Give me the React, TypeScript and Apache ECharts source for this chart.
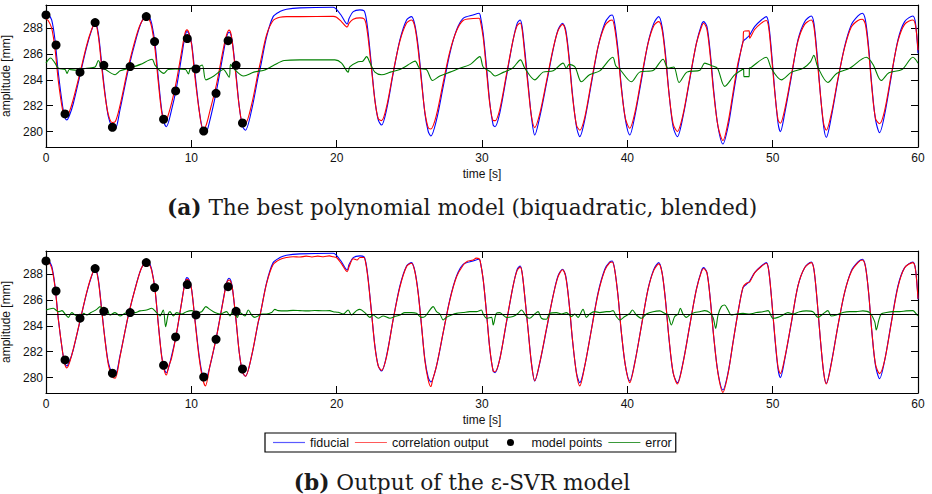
import React, { useEffect, useRef } from "react";
import * as echarts from "echarts";

const X_TICKS = [0, 10, 20, 30, 40, 50, 60];
const Y_TICKS = [280, 282, 284, 286, 288];
const Y_MIN = 278.8;
const Y_MAX = 289.8;
const ERROR_BASELINE = 284.92;

const NAME_FID = "fiducial";
const NAME_CORR = "correlation output";
const NAME_PTS = "model points";
const NAME_ERR = "error";

const CAPTION_A_TAG = "(a)";
const CAPTION_A = "The best polynomial model (biquadratic, blended)";
const CAPTION_B_TAG = "(b)";
const CAPTION_B = "Output of the ε-SVR model";

// fiducial signal [t, amplitude]
const fiducial: [number, number][] = [
  [0.0, 289.15], [0.15, 289.1], [0.39, 288.64], [0.62, 287.09], [0.85, 284.51], [1.15, 281.92], [1.3, 281.1], [1.43, 280.9],
  [1.6, 281.2], [1.88, 282.17], [2.34, 284.37], [2.8, 286.56], [3.14, 287.85], [3.38, 288.5], [3.6, 287.6], [3.83, 285.28],
  [4.06, 282.96], [4.29, 281.15], [4.55, 280.35], [4.76, 280.2], [5.09, 281.67], [5.66, 284.77], [6.24, 287.35], [6.58, 288.51],
  [6.94, 289.03], [7.1, 288.9], [7.27, 288.38], [7.5, 286.83], [7.72, 284.25], [7.96, 281.67], [8.15, 280.6], [8.28, 280.37],
  [8.64, 281.67], [8.99, 283.48], [9.33, 285.8], [9.56, 287.35], [9.7, 287.74], [9.85, 287.55], [10.02, 286.83], [10.25, 284.5],
  [10.54, 281.67], [10.78, 280.12], [10.97, 279.86], [11.28, 280.89], [11.74, 283.22], [12.2, 286.06], [12.43, 287.35], [12.6, 287.69],
  [12.72, 287.5], [12.84, 286.83], [13.07, 284.5], [13.3, 281.92], [13.53, 280.37], [13.72, 280.1], [14.15, 281.67], [14.6, 284.25],
  [14.76, 285.0], [15.18, 287.35], [15.63, 288.9], [16.09, 289.29], [16.55, 289.47], [17.47, 289.58], [19.76, 289.63], [19.99, 289.47],
  [20.34, 288.95], [20.72, 288.33], [20.86, 288.77], [21.14, 289.29], [21.6, 289.42], [21.87, 289.37], [22.01, 288.9], [22.17, 287.61],
  [22.4, 285.03], [22.63, 282.45], [22.86, 280.9], [23.09, 280.5], [23.43, 281.67], [23.89, 284.5], [24.35, 287.09], [24.81, 288.64],
  [25.15, 288.9], [25.38, 288.26], [25.61, 286.58], [25.84, 284.0], [26.07, 281.41], [26.3, 280.0], [26.48, 279.65], [26.87, 280.9],
  [27.33, 283.48], [27.79, 286.06], [28.25, 287.87], [28.7, 288.77], [29.39, 289.03], [29.8, 289.16], [29.88, 289.0], [30.08, 287.61],
  [30.31, 285.03], [30.54, 282.19], [30.77, 280.5], [30.9, 280.37], [31.22, 281.41], [31.68, 284.25], [32.14, 287.09], [32.42, 288.38],
  [32.63, 288.64], [32.76, 288.13], [32.94, 286.32], [33.17, 283.74], [33.4, 281.15], [33.63, 279.73], [33.98, 281.15], [34.44, 283.74],
  [34.89, 286.32], [35.23, 287.87], [35.54, 288.39], [35.76, 287.87], [35.99, 285.8], [36.22, 282.96], [36.5, 280.37], [36.73, 279.6],
  [37.07, 280.9], [37.53, 283.74], [37.99, 286.58], [38.45, 288.39], [38.79, 288.95], [38.96, 289.03], [39.13, 288.38], [39.36, 286.32],
  [39.59, 283.48], [39.87, 280.9], [40.17, 279.73], [40.51, 281.15], [40.97, 284.0], [41.42, 286.83], [41.82, 288.38], [42.16, 288.9],
  [42.39, 288.13], [42.62, 286.06], [42.87, 282.96], [43.15, 280.37], [43.44, 279.6], [43.83, 281.15], [44.29, 284.0], [44.75, 286.83],
  [45.1, 288.26], [45.25, 288.51], [45.48, 288.13], [45.71, 286.06], [45.94, 283.22], [46.24, 280.37], [46.58, 279.03], [46.93, 280.37],
  [47.27, 282.7], [47.61, 285.03], [47.96, 286.96], [48.19, 287.22], [48.42, 287.48], [48.76, 288.13], [49.22, 288.64], [49.56, 288.9],
  [49.72, 288.38], [49.91, 286.32], [50.14, 283.22], [50.37, 280.64], [50.53, 279.99], [50.83, 281.41], [51.29, 284.25], [51.74, 287.09],
  [52.2, 288.51], [52.66, 288.95], [52.84, 288.38], [53.05, 286.06], [53.28, 282.96], [53.51, 280.37], [53.69, 279.55], [54.04, 281.15],
  [54.49, 284.0], [54.95, 286.58], [55.41, 288.26], [55.87, 288.95], [56.17, 289.16], [56.38, 288.64], [56.6, 286.58], [56.83, 283.48],
  [57.08, 280.9], [57.36, 279.91], [57.7, 281.28], [58.16, 284.25], [58.62, 287.09], [59.08, 288.51], [59.65, 288.95], [59.83, 288.38],
  [60.0, 286.06],
];

// correlation output of the polynomial model (panel a)
const correlationA: [number, number][] = [
  [0.0, 288.7], [0.15, 288.6], [0.39, 288.0], [0.62, 286.4], [0.85, 283.9], [1.15, 281.6], [1.3, 281.1], [1.43, 281.15],
  [1.6, 281.5], [1.88, 282.5], [2.34, 284.55], [2.8, 286.7], [3.14, 287.9], [3.38, 288.4], [3.6, 287.4], [3.83, 285.0],
  [4.06, 282.8], [4.29, 281.3], [4.55, 280.7], [4.76, 280.75], [5.09, 282.0], [5.66, 285.0], [6.24, 287.5], [6.58, 288.5],
  [6.94, 288.9], [7.1, 288.7], [7.27, 288.1], [7.5, 286.4], [7.72, 283.9], [7.96, 281.5], [8.15, 280.8], [8.28, 280.85],
  [8.64, 282.2], [8.99, 284.0], [9.33, 286.2], [9.56, 287.6], [9.7, 287.87], [9.85, 287.6], [10.02, 286.7], [10.25, 284.2],
  [10.54, 281.6], [10.78, 280.3], [10.97, 280.35], [11.28, 281.6], [11.74, 283.7], [12.2, 286.4], [12.43, 287.5], [12.6, 287.85],
  [12.72, 287.6], [12.84, 286.7], [13.07, 284.3], [13.3, 281.9], [13.53, 280.65], [13.72, 280.65], [14.15, 282.1], [14.6, 284.6],
  [14.76, 285.4], [15.18, 287.5], [15.63, 288.6], [16.09, 288.85], [16.55, 288.9], [17.47, 288.9], [19.76, 288.92], [19.99, 288.85],
  [20.34, 288.5], [20.72, 288.1], [20.86, 288.4], [21.14, 288.7], [21.6, 288.8], [21.87, 288.75], [22.01, 288.4], [22.17, 287.2],
  [22.4, 284.8], [22.63, 282.4], [22.86, 281.0], [23.09, 280.84], [23.43, 281.9], [23.89, 284.6], [24.35, 287.0], [24.81, 288.4],
  [25.15, 288.64], [25.38, 288.1], [25.61, 286.3], [25.84, 283.8], [26.07, 281.5], [26.3, 280.3], [26.48, 280.2], [26.87, 281.3],
  [27.33, 283.8], [27.79, 286.2], [28.25, 287.8], [28.7, 288.6], [29.39, 288.75], [29.8, 288.77], [29.88, 288.6], [30.08, 287.3],
  [30.31, 284.7], [30.54, 282.1], [30.77, 280.85], [30.9, 280.84], [31.22, 281.7], [31.68, 284.4], [32.14, 287.1], [32.42, 288.2],
  [32.63, 288.4], [32.76, 287.9], [32.94, 286.0], [33.17, 283.5], [33.4, 281.2], [33.63, 280.3], [33.98, 281.4], [34.44, 283.9],
  [34.89, 286.4], [35.23, 287.8], [35.54, 288.3], [35.76, 287.7], [35.99, 285.6], [36.22, 282.8], [36.5, 280.5], [36.73, 280.1],
  [37.07, 281.1], [37.53, 283.9], [37.99, 286.6], [38.45, 288.2], [38.79, 288.6], [38.96, 288.64], [39.13, 288.0], [39.36, 286.0],
  [39.59, 283.3], [39.87, 281.0], [40.17, 280.25], [40.51, 281.4], [40.97, 284.2], [41.42, 286.8], [41.82, 288.2], [42.16, 288.51],
  [42.39, 287.9], [42.62, 285.8], [42.87, 282.9], [43.15, 280.6], [43.44, 280.0], [43.83, 281.3], [44.29, 284.1], [44.75, 286.8],
  [45.1, 288.1], [45.25, 288.39], [45.48, 287.9], [45.71, 285.8], [45.94, 283.0], [46.24, 280.4], [46.58, 279.3], [46.93, 280.7],
  [47.27, 283.0], [47.61, 285.3], [47.96, 286.96], [48.0, 287.74], [48.38, 287.8], [48.42, 287.22], [48.76, 287.9], [49.22, 288.4],
  [49.56, 288.6], [49.72, 288.1], [49.91, 286.0], [50.14, 283.1], [50.37, 280.9], [50.53, 280.64], [50.83, 281.7], [51.29, 284.4],
  [51.74, 287.0], [52.2, 288.3], [52.66, 288.64], [52.84, 288.1], [53.05, 285.8], [53.28, 282.9], [53.51, 280.6], [53.69, 280.1],
  [54.04, 281.4], [54.49, 284.1], [54.95, 286.5], [55.41, 288.1], [55.87, 288.6], [56.17, 288.7], [56.38, 288.3], [56.6, 286.3],
  [56.83, 283.3], [57.08, 281.0], [57.36, 280.6], [57.7, 281.6], [58.16, 284.4], [58.62, 287.0], [59.08, 288.3], [59.65, 288.64],
  [59.83, 288.2], [60.0, 286.3],
];

// correlation output of the epsilon-SVR model (panel b)
const correlationB: [number, number][] = [
  [0.0, 289.05], [0.15, 289.0], [0.39, 288.5], [0.62, 287.0], [0.85, 284.5], [1.15, 281.9], [1.3, 281.0], [1.43, 280.75],
  [1.6, 281.1], [1.88, 282.2], [2.34, 284.4], [2.8, 286.6], [3.14, 287.9], [3.38, 288.45], [3.6, 287.5], [3.83, 285.2],
  [4.06, 282.9], [4.29, 281.0], [4.55, 280.05], [4.76, 279.95], [5.09, 281.6], [5.66, 284.8], [6.24, 287.3], [6.58, 288.5],
  [6.94, 288.95], [7.1, 288.8], [7.27, 288.3], [7.5, 286.8], [7.72, 284.2], [7.96, 281.6], [8.15, 280.5], [8.28, 280.2],
  [8.45, 280.9], [8.64, 281.5], [8.99, 283.5], [9.33, 285.8], [9.56, 287.3], [9.7, 287.6], [9.85, 287.5], [10.02, 286.8],
  [10.25, 284.4], [10.54, 281.5], [10.78, 279.9], [10.97, 279.35], [11.28, 280.9], [11.74, 283.2], [12.2, 286.0], [12.43, 287.3],
  [12.6, 287.55], [12.72, 287.4], [12.84, 286.8], [13.07, 284.5], [13.3, 281.9], [13.53, 280.4], [13.72, 280.1], [14.15, 281.7],
  [14.6, 284.3], [14.76, 285.0], [15.18, 287.3], [15.63, 288.75], [16.09, 289.15], [16.55, 289.3], [17.0, 289.36], [17.47, 289.33],
  [17.9, 289.4], [18.3, 289.34], [18.7, 289.4], [19.1, 289.36], [19.5, 289.42], [19.76, 289.35], [19.99, 289.3], [20.34, 288.8],
  [20.72, 288.2], [20.86, 288.6], [21.14, 289.2], [21.4, 289.1], [21.6, 289.3], [21.87, 289.3], [22.01, 288.8], [22.17, 287.5],
  [22.4, 285.0], [22.63, 282.4], [22.86, 280.9], [23.09, 280.55], [23.43, 281.6], [23.89, 284.5], [24.35, 287.0], [24.81, 288.6],
  [25.15, 288.85], [25.38, 288.2], [25.61, 286.5], [25.84, 284.0], [26.07, 281.3], [26.3, 279.8], [26.48, 279.3], [26.6, 279.8],
  [26.87, 280.9], [27.33, 283.5], [27.79, 286.0], [28.25, 287.8], [28.7, 288.7], [29.0, 289.0], [29.39, 289.1], [29.6, 289.25],
  [29.8, 289.2], [29.88, 289.0], [30.08, 287.6], [30.31, 285.0], [30.54, 282.2], [30.77, 280.5], [30.9, 280.45], [31.22, 281.4],
  [31.68, 284.3], [32.14, 287.1], [32.42, 288.3], [32.63, 288.55], [32.76, 288.1], [32.94, 286.3], [33.17, 283.7], [33.4, 281.1],
  [33.63, 279.75], [33.98, 281.2], [34.44, 283.8], [34.89, 286.3], [35.23, 287.8], [35.54, 288.35], [35.76, 287.8], [35.99, 285.8],
  [36.22, 283.0], [36.5, 280.3], [36.73, 279.35], [37.07, 280.9], [37.53, 283.7], [37.99, 286.5], [38.45, 288.3], [38.79, 288.9],
  [38.96, 288.95], [39.13, 288.35], [39.36, 286.3], [39.59, 283.5], [39.87, 280.9], [40.17, 279.6], [40.51, 281.1], [40.97, 284.0],
  [41.42, 286.8], [41.82, 288.3], [42.16, 288.8], [42.39, 288.1], [42.62, 286.0], [42.87, 283.0], [43.15, 280.4], [43.44, 279.5],
  [43.83, 281.1], [44.29, 284.0], [44.75, 286.8], [45.1, 288.2], [45.25, 288.45], [45.48, 288.1], [45.71, 286.0], [45.94, 283.2],
  [46.24, 280.3], [46.58, 278.85], [46.93, 280.3], [47.27, 282.7], [47.61, 285.0], [47.96, 287.0], [48.19, 287.3], [48.42, 287.4],
  [48.76, 288.1], [49.22, 288.6], [49.56, 288.85], [49.72, 288.35], [49.91, 286.3], [50.14, 283.3], [50.37, 280.8], [50.53, 280.3],
  [50.83, 281.5], [51.29, 284.3], [51.74, 287.1], [52.2, 288.5], [52.66, 288.9], [52.84, 288.35], [53.05, 286.1], [53.28, 283.0],
  [53.51, 280.4], [53.69, 279.5], [54.04, 281.1], [54.49, 284.0], [54.95, 286.6], [55.41, 288.2], [55.87, 288.9], [56.17, 289.1],
  [56.38, 288.6], [56.6, 286.6], [56.83, 283.5], [57.08, 281.0], [57.36, 280.3], [57.7, 281.3], [58.16, 284.2], [58.62, 287.0],
  [59.08, 288.5], [59.65, 288.9], [59.83, 288.35], [60.0, 286.1],
];

// error of panel a (offset around the baseline)
const errorA: [number, number][] = [
  [0.0, 285.3], [0.32, 285.7], [0.62, 285.3], [0.85, 284.9], [1.31, 284.8], [1.45, 284.5], [1.6, 284.8], [2.1, 284.75],
  [2.8, 284.9], [3.38, 285.0], [3.6, 285.5], [3.83, 285.0], [4.1, 284.8], [4.76, 284.4], [5.1, 284.7], [5.7, 284.9],
  [6.5, 285.2], [7.3, 285.6], [7.5, 285.15], [8.1, 284.5], [8.4, 284.8], [8.9, 284.85], [9.6, 284.8], [9.8, 284.45],
  [9.95, 284.9], [10.4, 284.95], [10.75, 285.15], [11.0, 284.0], [11.55, 284.3], [12.2, 284.8], [12.6, 284.2], [12.7, 285.2],
  [12.9, 284.9], [13.6, 284.3], [14.3, 284.6], [15.0, 284.75], [15.3, 284.9], [15.7, 285.15], [16.4, 285.5], [17.47, 285.55],
  [19.88, 285.55], [20.34, 285.3], [20.79, 284.6], [20.9, 285.0], [21.48, 285.4], [21.8, 285.45], [22.06, 285.8], [22.3, 285.3],
  [22.63, 284.6], [23.1, 284.4], [23.7, 284.6], [24.35, 284.8], [24.9, 285.15], [25.4, 285.45], [25.7, 284.9], [26.18, 284.8],
  [26.6, 283.95], [27.1, 284.3], [27.8, 284.6], [28.47, 284.9], [29.2, 285.2], [29.85, 285.8], [30.08, 285.0], [30.6, 284.6],
  [30.9, 284.3], [31.5, 284.6], [32.1, 284.9], [32.65, 285.55], [32.95, 284.9], [33.63, 284.0], [34.2, 284.6], [34.9, 284.7],
  [35.58, 285.3], [35.8, 284.9], [36.0, 285.2], [36.4, 285.0], [36.84, 283.85], [37.4, 284.4], [38.1, 284.7], [39.0, 285.75],
  [39.2, 285.1], [39.5, 284.8], [40.28, 283.85], [40.85, 284.6], [41.8, 284.75], [42.46, 285.6], [42.8, 284.9], [43.2, 285.0],
  [43.56, 283.8], [44.1, 284.6], [45.0, 284.75], [45.32, 285.3], [45.8, 285.1], [46.2, 284.9], [46.7, 283.5], [47.4, 284.4],
  [48.0, 284.85], [48.02, 284.25], [48.38, 284.25], [48.4, 284.9], [48.5, 284.95], [49.56, 285.75], [49.9, 284.9], [50.6, 284.0],
  [51.3, 284.6], [52.1, 284.9], [52.6, 285.4], [52.83, 285.9], [53.1, 285.0], [53.8, 283.8], [54.4, 284.5], [55.3, 284.9],
  [56.45, 285.75], [56.9, 285.2], [57.47, 283.95], [58.0, 284.55], [58.9, 284.8], [59.65, 285.75], [60.0, 285.3],
];

// error of panel b
const errorB: [number, number][] = [
  [0.0, 285.23], [0.5, 285.36], [0.85, 285.1], [1.1, 285.18], [1.31, 284.92], [1.54, 284.66], [1.77, 285.03], [2.0, 284.84],
  [2.34, 284.66], [2.6, 284.97], [2.8, 284.84], [3.1, 285.03], [3.49, 285.28], [3.72, 285.49], [3.99, 285.1], [4.17, 285.36],
  [4.4, 284.84], [4.75, 285.03], [5.09, 284.77], [5.43, 284.97], [5.78, 285.1], [6.12, 285.03], [6.46, 285.16], [6.92, 285.23],
  [7.27, 285.36], [7.61, 285.03], [7.84, 284.77], [8.07, 285.23], [8.23, 283.94], [8.41, 284.92], [8.53, 285.1], [8.76, 284.77],
  [8.99, 285.03], [9.33, 284.92], [9.67, 285.1], [10.02, 285.18], [10.36, 285.03], [10.71, 285.1], [11.0, 285.49], [11.28, 285.28],
  [11.62, 285.03], [11.97, 284.92], [12.43, 285.1], [12.65, 284.77], [12.88, 285.18], [13.16, 284.66], [13.34, 285.03], [13.69, 284.77],
  [13.92, 285.23], [14.15, 284.84], [14.37, 284.66], [14.6, 284.77], [14.83, 284.92], [15.17, 284.92], [15.52, 285.03], [15.75, 285.28],
  [15.98, 285.18], [16.5, 285.16], [17.0, 285.2], [17.47, 285.18], [18.0, 285.16], [18.5, 285.19], [19.0, 285.17], [19.53, 285.18],
  [19.76, 285.1], [20.1, 285.05], [20.45, 284.92], [20.79, 285.23], [21.02, 284.84], [21.37, 285.18], [21.6, 285.28], [21.94, 285.03],
  [22.28, 284.66], [22.51, 284.84], [22.86, 284.59], [23.2, 284.77], [23.66, 284.59], [24.0, 284.72], [24.35, 284.84], [24.69, 285.03],
  [25.15, 285.03], [25.49, 284.97], [25.84, 284.66], [26.07, 284.72], [26.29, 285.03], [26.64, 285.49], [26.87, 285.1], [27.1, 284.92],
  [27.33, 284.46], [27.55, 284.66], [27.9, 284.84], [28.24, 284.97], [28.7, 285.03], [29.16, 285.1], [29.62, 285.1], [29.96, 285.23],
  [30.08, 284.92], [30.31, 284.59], [30.65, 284.66], [30.77, 284.07], [30.99, 284.97], [31.22, 285.03], [31.45, 284.84], [31.68, 284.66],
  [32.14, 284.72], [32.48, 284.97], [32.71, 285.23], [33.06, 284.72], [33.29, 284.59], [33.63, 284.92], [33.86, 285.1], [34.09, 284.59],
  [34.43, 284.51], [34.66, 284.97], [35.12, 285.03], [35.47, 284.92], [35.81, 285.03], [36.15, 284.72], [36.38, 284.92], [36.61, 284.66],
  [36.95, 285.28], [37.18, 284.66], [37.41, 284.92], [37.76, 285.1], [38.1, 285.03], [38.56, 285.1], [38.79, 285.1], [39.02, 285.18],
  [39.25, 284.72], [39.48, 284.46], [39.82, 284.72], [40.17, 284.97], [40.35, 285.23], [40.62, 284.84], [40.97, 284.59], [41.31, 284.92],
  [41.77, 285.1], [42.23, 285.16], [42.57, 284.97], [42.8, 284.84], [43.03, 284.07], [43.26, 284.72], [43.49, 284.92], [43.65, 285.36],
  [43.83, 284.92], [44.06, 284.66], [44.29, 284.84], [44.63, 285.03], [44.98, 285.1], [45.32, 285.18], [45.67, 285.03], [45.9, 284.66],
  [46.08, 283.81], [46.24, 284.84], [46.47, 285.49], [46.7, 285.62], [46.93, 285.23], [47.15, 284.84], [47.5, 284.92], [47.96, 284.97],
  [48.42, 284.92], [48.87, 285.03], [49.33, 285.1], [49.68, 285.18], [50.02, 284.59], [50.36, 284.66], [50.71, 284.84], [51.05, 285.03],
  [51.4, 284.92], [51.85, 285.1], [52.31, 285.16], [52.77, 285.1], [53.11, 284.66], [53.46, 284.92], [53.8, 285.18], [54.03, 284.77],
  [54.38, 284.84], [54.83, 285.03], [55.29, 285.1], [55.75, 285.1], [56.21, 285.16], [56.67, 285.03], [57.02, 284.33], [57.13, 283.68],
  [57.31, 284.46], [57.47, 284.92], [57.82, 285.03], [58.27, 285.1], [58.73, 285.1], [59.19, 285.16], [59.65, 285.18], [59.88, 284.92],
  [60.0, 284.8],
];

// model (training) points
const modelPoints: [number, number][] = [
  [0.0, 289.03], [0.69, 286.7], [1.31, 281.36], [2.34, 284.6], [3.38, 288.44], [3.98, 285.13], [4.57, 280.33], [5.79, 285.03],
  [6.9, 288.9], [7.47, 286.97], [8.09, 280.95], [8.92, 283.14], [9.72, 287.2], [10.32, 284.85], [10.85, 280.04], [11.7, 282.96],
  [12.53, 287.04], [13.08, 285.13], [13.52, 280.66],
];

const SANS = "'Liberation Sans', Arial, Helvetica, sans-serif";
const SERIF = "'DejaVu Serif', 'Liberation Serif', serif";
const TEXT_COLOR = "#111";
const LINE_ICON = "path://M0,0 L32,0 L32,1.2 L0,1.2 Z";
const DOT_ICON = "path://M0,0 M32,9 M19.5,4.5 A3.5,3.5 0 1 1 12.5,4.5 A3.5,3.5 0 1 1 19.5,4.5 Z";

function buildOption() {
  const grids = [
    { left: 46, right: 14, top: 5, height: 142, outerBoundsMode: "none", containLabel: false },
    { left: 46, right: 14, top: 251, height: 142, outerBoundsMode: "none", containLabel: false },
  ];
  const axisLineStyle = { show: true, onZero: false, lineStyle: { color: "#000", width: 1.2 } };
  const xAxes: any[] = [];
  const yAxes: any[] = [];
  grids.forEach((_, gi) => {
    xAxes.push({
      gridIndex: gi, type: "value", min: X_TICKS[0], max: X_TICKS[X_TICKS.length - 1], interval: 10, position: "bottom",
      axisLine: axisLineStyle,
      axisTick: { show: true, inside: true, length: 7, lineStyle: { color: "#000", width: 1 } },
      axisLabel: { color: TEXT_COLOR, fontSize: 12, fontFamily: SANS, margin: 5 },
      splitLine: { show: false },
      name: "time [s]", nameLocation: "middle", nameGap: 21,
      nameTextStyle: { color: TEXT_COLOR, fontSize: 12, fontFamily: SANS },
    });
    xAxes.push({
      gridIndex: gi, type: "value", min: X_TICKS[0], max: X_TICKS[X_TICKS.length - 1], interval: 10, position: "top",
      axisLine: axisLineStyle,
      axisTick: { show: true, inside: true, length: 7, lineStyle: { color: "#000", width: 1 } },
      axisLabel: { show: false }, splitLine: { show: false },
    });
    yAxes.push({
      gridIndex: gi, type: "value", min: Y_MIN, max: Y_MAX, position: "left",
      axisLine: axisLineStyle,
      axisTick: { show: true, inside: true, length: 7, customValues: Y_TICKS, lineStyle: { color: "#000", width: 1 } },
      axisLabel: { color: TEXT_COLOR, fontSize: 12, fontFamily: SANS, margin: 3, customValues: Y_TICKS },
      splitLine: { show: false },
      name: "amplitude [mm]", nameLocation: "middle", nameGap: 28,
      nameTextStyle: { color: TEXT_COLOR, fontSize: 12, fontFamily: SANS },
    });
    yAxes.push({
      gridIndex: gi, type: "value", min: Y_MIN, max: Y_MAX, position: "right",
      axisLine: axisLineStyle,
      axisTick: { show: true, inside: true, length: 7, customValues: Y_TICKS, lineStyle: { color: "#000", width: 1 } },
      axisLabel: { show: false, customValues: Y_TICKS }, splitLine: { show: false },
    });
  });

  const lineSeries = (name: string, data: [number, number][], color: string, gi: number, z: number, extra: any = {}) => ({
    name, type: "line", data, xAxisIndex: gi * 2, yAxisIndex: gi * 2,
    symbol: "none", showSymbol: false, smooth: 0.3, z,
    lineStyle: { color, width: 1.1 }, itemStyle: { color }, ...extra,
  });
  const baseline = {
    silent: true, symbol: "none", label: { show: false },
    lineStyle: { color: "#000", width: 1.2, type: "solid" },
    data: [{ yAxis: ERROR_BASELINE }],
  };
  const series: any[] = [];
  [[correlationA, errorA], [correlationB, errorB]].forEach(([corr, err], gi) => {
    series.push(lineSeries(NAME_FID, fiducial, "#0000ff", gi, 2));
    series.push(lineSeries(NAME_CORR, corr as [number, number][], "#ff0000", gi, 3));
    series.push({
      name: NAME_PTS, type: "scatter", data: modelPoints, xAxisIndex: gi * 2, yAxisIndex: gi * 2,
      symbol: "circle", symbolSize: 9, itemStyle: { color: "#000", opacity: 1 }, z: 6,
    });
    series.push(lineSeries(NAME_ERR, err as [number, number][], "#008000", gi, 4, { markLine: baseline }));
  });

  const captionStyle = (tag: string, text: string) => ({
    text: `{b|${tag}} ${text}`,
    rich: { b: { fontWeight: "bold", fontFamily: SERIF, fontSize: 21.7, fill: "#1a1a1a" } },
    font: `21.7px ${SERIF}`, fill: "#1a1a1a",
    align: "center", verticalAlign: "middle",
  });

  return {
    animation: false,
    backgroundColor: "#fff",
    grid: grids,
    xAxis: xAxes,
    yAxis: yAxes,
    legend: {
      data: [
        { name: NAME_FID, icon: LINE_ICON, itemStyle: { color: "#5a5aff" } },
        { name: NAME_CORR, icon: LINE_ICON, itemStyle: { color: "#ff5a5a" } },
        { name: NAME_PTS, icon: DOT_ICON, itemStyle: { color: "#000" } },
        { name: NAME_ERR, icon: LINE_ICON, itemStyle: { color: "#3a9a3a" } },
      ],
      left: 265, top: 433,
      orient: "horizontal",
      itemWidth: 32, itemHeight: 9, itemGap: 6,
      padding: [3, 4, 3, 8],
      borderColor: "#000", borderWidth: 1.2, backgroundColor: "#fff",
      textStyle: { color: TEXT_COLOR, fontSize: 12.5, fontFamily: SANS },
      selectedMode: false,
    },
    graphic: [
      { type: "text", x: 462, y: 207, style: captionStyle(CAPTION_A_TAG, CAPTION_A) },
      { type: "text", x: 462, y: 482, style: captionStyle(CAPTION_B_TAG, CAPTION_B) },
    ],
    series,
  };
}

export default function App() {
  const ref = useRef<HTMLDivElement>(null);
  useEffect(() => {
    if (!ref.current) return;
    const chart = echarts.init(ref.current, null, { renderer: "svg" });
    chart.setOption(buildOption() as any);
    return () => chart.dispose();
  }, []);
  return (
    <div
      ref={ref}
      style={{ position: "absolute", left: 0, top: 0, width: 932, height: 494, background: "#fff" }}
    />
  );
}
